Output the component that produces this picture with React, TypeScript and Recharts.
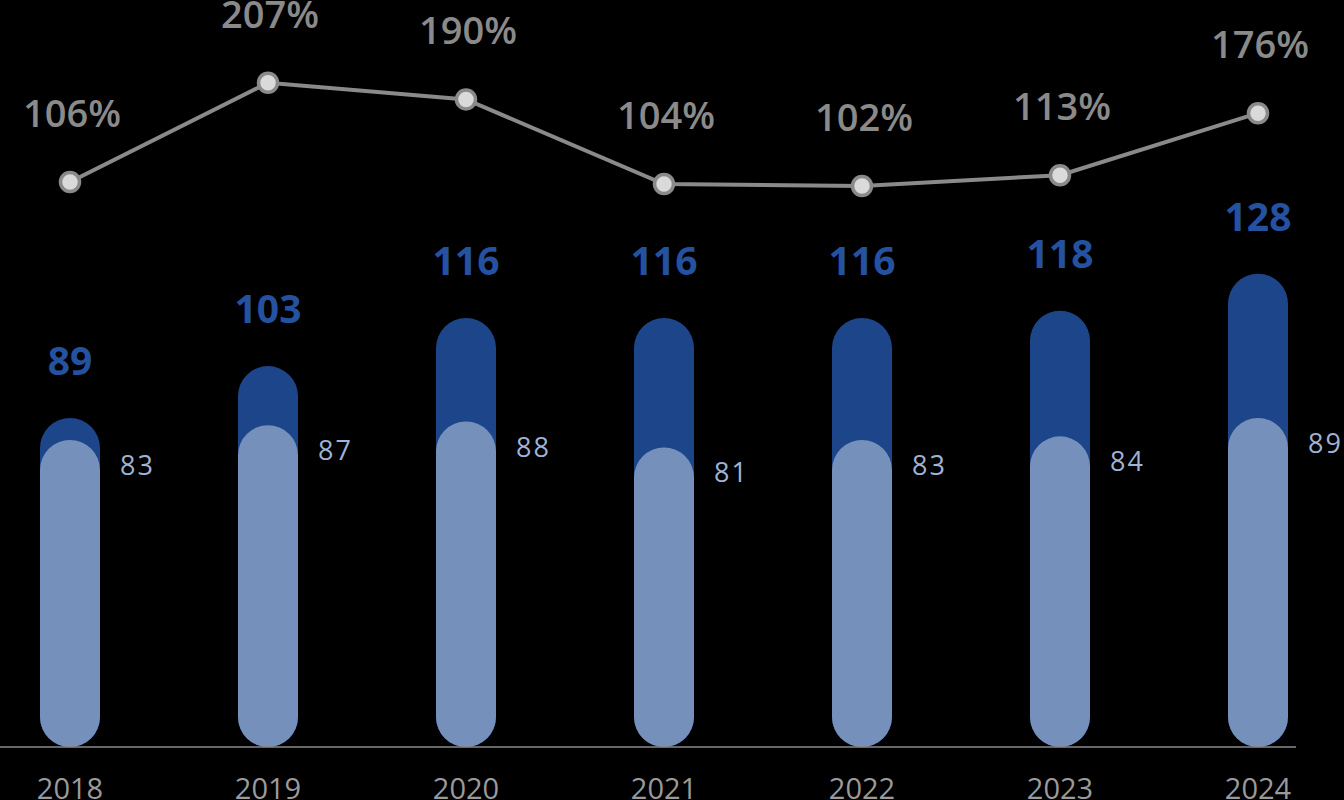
import React from "react";
import { ComposedChart, Bar, Line, XAxis, YAxis, LabelList } from "recharts";

const years = ["2018", "2019", "2020", "2021", "2022", "2023", "2024"];
const totalValues = [89, 103, 116, 116, 116, 118, 128];
const baseValues = [83, 87, 88, 81, 83, 84, 89];
const ratioValues = [106, 207, 190, 104, 102, 113, 176];

const data = years.map((year, i) => ({
  year,
  total: totalValues[i],
  base: baseValues[i],
  ratio: ratioValues[i],
}));

const FONT = "'Open Sans', 'DejaVu Sans', sans-serif";

const TotalLabel = (p: any) => (
  <text
    x={p.x + p.width / 2}
    y={p.y - 43}
    textAnchor="middle"
    fill="#2452a0"
    fontSize={39}
    fontWeight={700}
    fontFamily={FONT}
  >
    {p.value}
  </text>
);

const BaseLabel = (p: any) => (
  <text
    x={p.x + p.width + 20}
    y={p.y + 35}
    textAnchor="start"
    fill="#9fb3d6"
    fontSize={27}
    letterSpacing={2}
    fontFamily={FONT}
  >
    {p.value}
  </text>
);

const RatioLabel = (p: any) => (
  <text
    x={p.x + 2}
    y={p.y - 55}
    textAnchor="middle"
    fill="#8a8a8a"
    fontSize={38}
    fontWeight={600}
    fontFamily={FONT}
  >
    {`${p.value}%`}
  </text>
);

const YearTick = (p: any) => (
  <text
    x={p.x}
    y={p.y + 52}
    textAnchor="middle"
    fill="#9a9a9a"
    fontSize={29}
    fontFamily={FONT}
  >
    {p.payload.value}
  </text>
);

const RatioDot = (p: any) => (
  <circle
    key={`dot-${p.index}`}
    cx={p.cx}
    cy={p.cy}
    r={9.5}
    fill="#dadada"
    stroke="#8a8a8a"
    strokeWidth={3.5}
  />
);

export default function App() {
  return (
    <div
      style={{
        position: "absolute",
        left: 0,
        top: 0,
        width: 1344,
        height: 800,
        background: "#000",
        overflow: "hidden",
      }}
    >
      <ComposedChart
        width={1344}
        height={800}
        data={data}
        margin={{ top: 0, right: 48, bottom: 0, left: 0 }}
        barSize={60}
        barGap={-60}
      >
        <XAxis
          dataKey="year"
          height={53}
          padding={{ left: -29, right: -61 }}
          tickLine={false}
          tickSize={0}
          tickMargin={0}
          axisLine={{ stroke: "#8a8a8a", strokeWidth: 1.5 }}
          tick={<YearTick />}
          interval={0}
        />
        <YAxis yAxisId="bars" hide domain={[0, 202]} />
        <YAxis yAxisId="ratio" hide orientation="right" domain={[-468, 291]} />
        <Bar
          yAxisId="bars"
          dataKey="total"
          fill="#1d4589"
          radius={[30, 30, 30, 30]}
          isAnimationActive={false}
        >
          <LabelList dataKey="total" content={<TotalLabel />} />
        </Bar>
        <Bar
          yAxisId="bars"
          dataKey="base"
          fill="#7591bb"
          radius={[30, 30, 30, 30]}
          isAnimationActive={false}
        >
          <LabelList dataKey="base" content={<BaseLabel />} />
        </Bar>
        <Line
          yAxisId="ratio"
          dataKey="ratio"
          stroke="#8a8a8a"
          strokeWidth={4}
          dot={RatioDot}
          activeDot={false}
          isAnimationActive={false}
        >
          <LabelList dataKey="ratio" content={<RatioLabel />} />
        </Line>
      </ComposedChart>
    </div>
  );
}
